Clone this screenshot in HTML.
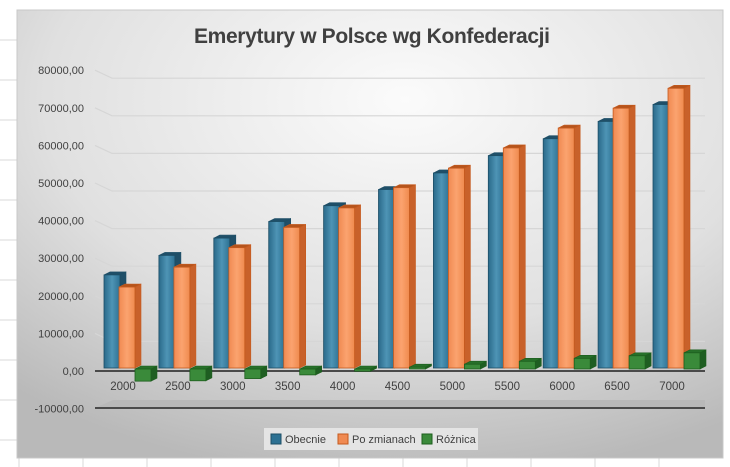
<!DOCTYPE html>
<html><head><meta charset="utf-8"><style>
body{margin:0;width:730px;height:467px;overflow:hidden;background:#fff;font-family:"Liberation Sans",sans-serif}
</style></head><body>
<svg width="730" height="467" xmlns="http://www.w3.org/2000/svg" style="position:absolute;left:0;top:0">
<defs>
<radialGradient id="bg" cx="0.55" cy="0.2" r="0.85">
<stop offset="0" stop-color="#fbfbfb"/><stop offset="0.6" stop-color="#e0e0e0"/><stop offset="1" stop-color="#b9b9b9"/>
</radialGradient>
<linearGradient id="bl" x1="0" x2="1"><stop offset="0" stop-color="#2a6a8a"/><stop offset="0.5" stop-color="#4e94b5"/><stop offset="1" stop-color="#2d7193"/></linearGradient>
<linearGradient id="or" x1="0" x2="1"><stop offset="0" stop-color="#f08a52"/><stop offset="0.5" stop-color="#fba36f"/><stop offset="1" stop-color="#ef8a4e"/></linearGradient>
</defs>
<g stroke="#d9d9d9" stroke-width="1">
<line x1="0" y1="40" x2="17" y2="40"/><line x1="0" y1="80" x2="17" y2="80"/><line x1="0" y1="120" x2="17" y2="120"/><line x1="0" y1="160" x2="17" y2="160"/><line x1="0" y1="200" x2="17" y2="200"/><line x1="0" y1="240" x2="17" y2="240"/><line x1="0" y1="280" x2="17" y2="280"/><line x1="0" y1="320" x2="17" y2="320"/><line x1="0" y1="360" x2="17" y2="360"/><line x1="0" y1="400" x2="17" y2="400"/><line x1="0" y1="440" x2="17" y2="440"/>
<line x1="19" y1="458" x2="19" y2="467"/><line x1="83" y1="458" x2="83" y2="467"/><line x1="147" y1="458" x2="147" y2="467"/><line x1="211" y1="458" x2="211" y2="467"/><line x1="275" y1="458" x2="275" y2="467"/><line x1="339" y1="458" x2="339" y2="467"/><line x1="403" y1="458" x2="403" y2="467"/><line x1="467" y1="458" x2="467" y2="467"/><line x1="531" y1="458" x2="531" y2="467"/><line x1="595" y1="458" x2="595" y2="467"/><line x1="659" y1="458" x2="659" y2="467"/>
</g>
<rect x="17" y="10" width="706" height="448" fill="url(#bg)" stroke="#c8c8c8"/>
<text x="372" y="43" text-anchor="middle" font-size="21" font-weight="bold" fill="#404040" textLength="356">Emerytury w Polsce wg Konfederacji</text>
<g id="grid" stroke="#d6d6d6" fill="none" stroke-width="1.2"></g>
<polygon points="95,408 113,400 705,400 705,408" fill="#b8b8b8"/>
<line x1="95" y1="408" x2="705" y2="408" stroke="#4a4a4a" stroke-width="2"/>
<line x1="95" y1="371" x2="705" y2="371" stroke="#4a4a4a" stroke-width="2"/>
<g id="labels" font-size="11" fill="#404040" text-anchor="end"></g>
<g id="bars"></g>
<g id="xl" font-size="11.5" fill="#404040" text-anchor="middle"></g>
<rect x="264" y="428" width="214" height="22" fill="#e4e4e4"/>
<rect x="271" y="434" width="10" height="10" fill="#2d7193" stroke="#1d4e66"/>
<text x="285" y="443" font-size="11" fill="#404040">Obecnie</text>
<rect x="338" y="434" width="10" height="10" fill="#f08a52" stroke="#c55a1e"/>
<text x="352" y="443" font-size="11" fill="#404040">Po zmianach</text>
<rect x="422" y="434" width="10" height="10" fill="#3a8a3a" stroke="#1d5e1d"/>
<text x="436" y="443" font-size="11" fill="#404040">Różnica</text>
</svg>
<script>
const NS="http://www.w3.org/2000/svg";
function el(p,t,a,txt){const e=document.createElementNS(NS,t);for(const k in a)e.setAttribute(k,a[k]);if(txt!==undefined)e.textContent=txt;document.getElementById(p).appendChild(e);}
const s=3.68,z=368;
for(let v=-10000;v<=80000;v+=10000){const y=371-v/1000*3.76;
 el('labels','text',{x:84,y:y+4},v+',00');
 if(v>0) el('grid','polyline',{points:`95,${y} 112,${y+8} 705,${y+8}`});}
const blue=[25.3,30.6,35.3,39.8,44.1,48.5,53,57.7,62.3,67,71.6];
const org=[22,27.4,32.7,38.2,43.5,49,54.3,59.8,65.2,70.6,76];
function bar(x,w,v,y0,front,side,top,stroke){
 const y=y0-v*s,dx=6,dy=3;
 let yt=Math.min(y,y0),yb=Math.max(y,y0);
 el('bars','polygon',{points:`${x+w},${yt} ${x+w+dx},${yt-dy} ${x+w+dx},${yb-dy} ${x+w},${yb}`,fill:side,stroke:stroke,'stroke-width':0.6});
 el('bars','polygon',{points:`${x},${yt} ${x+dx},${yt-dy} ${x+w+dx},${yt-dy} ${x+w},${yt}`,fill:top,stroke:stroke,'stroke-width':0.6});
 el('bars','rect',{x:x,y:yt,width:w,height:yb-yt,fill:front,stroke:stroke,'stroke-width':0.8});
}
for(let i=0;i<11;i++){const c=123+i*54.9;
 bar(c-19,16,blue[i],z,'url(#bl)','#1f4f68','#1f4f68','#1d4e66');
 bar(c-4,16,org[i],z,'url(#or)','#c8612a','#b5541c','#c55a1e');
 const d=org[i]-blue[i];
 bar(c+12,16,d,z+1,'#3a8a3a','#1f5e22','#27702a','#1d5e1d');
 el('xl','text',{x:c,y:390},2000+i*500);}
</script>
</body></html>
